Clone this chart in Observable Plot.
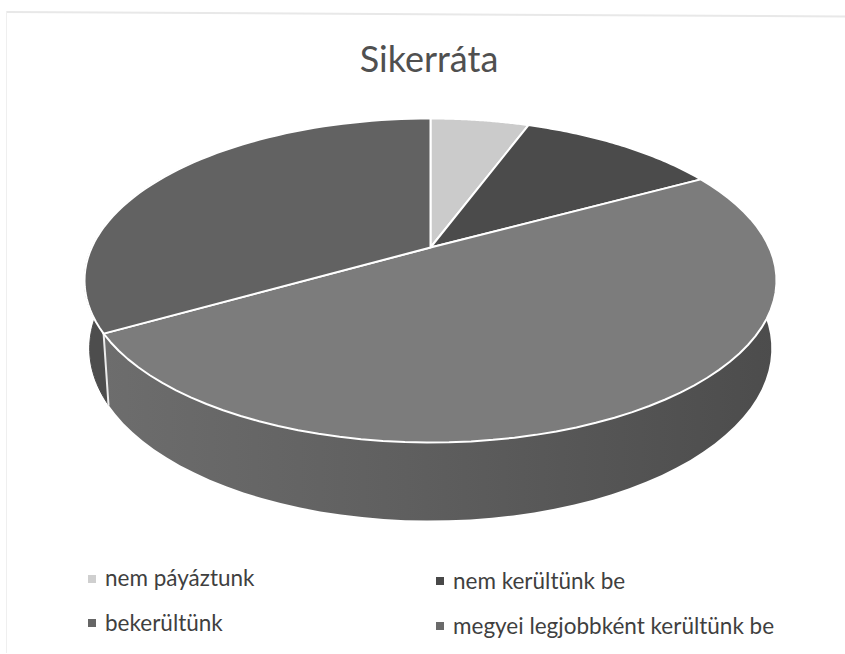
<!DOCTYPE html>
<html lang="hu">
<head>
<meta charset="utf-8">
<script src="https://cdn.jsdelivr.net/npm/d3@7"></script>
<script src="https://cdn.jsdelivr.net/npm/@observablehq/plot@0.6"></script>
<style>
html,body{margin:0;background:#fff;}
#page{position:relative;width:845px;height:654px;overflow:hidden;font-family:Lato,sans-serif;color:#3f3f3f;}
#frameTop{position:absolute;left:6px;top:11px;width:845px;height:0;border-top:2px solid #e8e8e8;transform:rotate(.3deg);transform-origin:0 0;}
#frameLeft{position:absolute;left:6px;top:11px;width:0;height:642px;border-left:1px solid #efefef;}
h1{position:absolute;left:0;top:36px;width:858px;margin:0;text-align:center;font-size:36px;line-height:44px;font-weight:400;color:#505050;}
#chart{position:absolute;left:0;top:100px;}
.lg{position:absolute;font-size:22.5px;line-height:24px;white-space:nowrap;}
.sw{position:absolute;width:8px;height:8px;}
</style>
</head>
<body>
<div id="page">
  <div id="frameTop"></div><div id="frameLeft"></div>
  <h1>Sikerráta</h1>
  <div id="chart"></div>
  <div id="legend"></div>
</div>
<script>
const categories = ["nem páyáztunk", "nem kerültünk be", "bekerültünk", "megyei legjobbként kerültünk be"];
const shares = [5.6, 11.4, 49.7, 33.3];
const topColors = ["#cbcbcb", "#4b4b4b", "#7c7c7c", "#626262"];
const legendColors = ["#cfcfcf", "#484848", "#666666", "#6a6a6a"];

// perspective of the disc
const k = 0.2037;
const lowerScaleX = 0.985, lowerScaleY = 1.062, lowerShiftY = -0.425;

const pie = d3.pie().sort(null).value(d => d)(shares);
const arcSteps = (a0, a1) => d3.range(0, 61).map(i => a0 + (a1 - a0) * i / 60);
const rimTop = a => {
  const u = Math.sin(a), v = Math.cos(a), w = 1 + k * v;
  return {x: u / w, y: v / w};
};
const rimLow = a => {
  const p = rimTop(a);
  return {x: p.x * lowerScaleX, y: p.y * lowerScaleY + lowerShiftY};
};

const faces = pie.flatMap((s, i) => [
  {x: 0, y: 0, part: categories[i]},
  ...arcSteps(s.startAngle, s.endAngle).map(a => ({...rimTop(a), part: categories[i]})),
  {x: 0, y: 0, part: categories[i]}
]);

const wall = (a0, a1) => [
  ...arcSteps(a0, a1).map(rimTop),
  ...arcSteps(a0, a1).reverse().map(rimLow)
];
const wallThird = wall(pie[2].startAngle, pie[2].endAngle);
const wallFourth = wall(pie[3].startAngle, pie[3].startAngle + 1.2);
const seam = [rimTop(pie[3].startAngle), rimLow(pie[3].startAngle)];

function defs() {
  const d = d3.create("svg:defs");
  const g = d.append("linearGradient").attr("id", "wallShade");
  g.append("stop").attr("offset", "0%").attr("stop-color", "#6d6d6d");
  g.append("stop").attr("offset", "45%").attr("stop-color", "#5f5f5f");
  g.append("stop").attr("offset", "100%").attr("stop-color", "#4c4c4c");
  return d.node();
}

const plot = Plot.plot({
  width: 845, height: 440,
  margin: 0,
  x: {domain: [-1.0214, 1.0214], range: [84, 776], axis: null},
  y: {domain: [0.9, -1.8], range: [7.23, 426.54], axis: null},
  color: {domain: categories, range: topColors},
  marks: [
    defs,
    Plot.line(wallFourth, {x: "x", y: "y", fill: "#4d4d4d", stroke: "#4d4d4d", strokeWidth: 1, curve: "linear"}),
    Plot.line(wallThird, {x: "x", y: "y", fill: "url(#wallShade)", stroke: "none", curve: "linear"}),
    Plot.line(seam, {x: "x", y: "y", stroke: "#ececec", strokeWidth: 2}),
    Plot.line(faces, {x: "x", y: "y", z: "part", fill: "part", stroke: "#ffffff", strokeWidth: 2, strokeLinejoin: "round", curve: "linear"})
  ]
});
document.getElementById("chart").append(plot);

const legendCells = [[0, 105, 88, 566, 575], [1, 453, 436, 569, 577], [2, 105, 88, 611, 619], [3, 453, 436, 614, 622]];
const legend = document.getElementById("legend");
legendCells.forEach(([i, tx, sx, ty, sy]) => {
  const sw = document.createElement("div");
  sw.className = "sw";
  sw.style.cssText = `left:${sx}px;top:${sy}px;background:${legendColors[i]}`;
  const t = document.createElement("div");
  t.className = "lg";
  t.style.cssText = `left:${tx}px;top:${ty}px`;
  t.textContent = categories[i];
  legend.append(sw, t);
});
</script>
</body>
</html>
